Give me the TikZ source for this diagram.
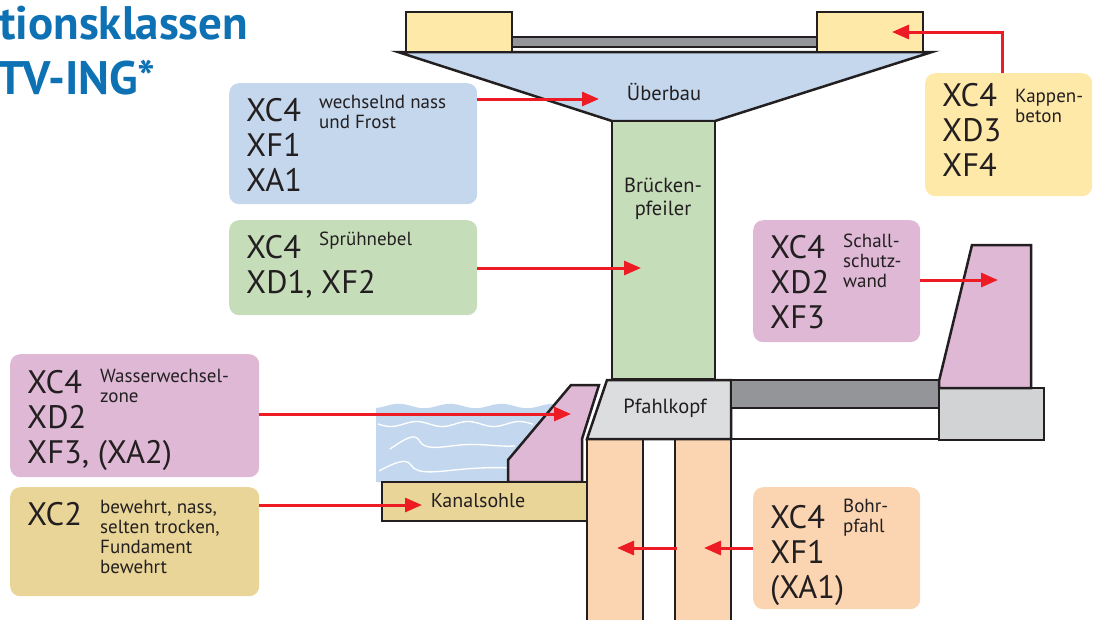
\documentclass[tikz,border=0pt]{standalone}
\usepackage{fontspec}
\setmainfont{PT Sans}
\usetikzlibrary{arrows.meta}
\definecolor{ink}{HTML}{231F20}
\definecolor{bblue}{HTML}{C4D7EC}
\definecolor{bgreen}{HTML}{C6DDBA}
\definecolor{byellow}{HTML}{FEE9A8}
\definecolor{bpink}{HTML}{DEB8D5}
\definecolor{btan}{HTML}{E8D597}
\definecolor{borange}{HTML}{FBD5B1}
\definecolor{gdark}{HTML}{939598}
\definecolor{glight}{HTML}{D1D3D4}
\definecolor{gkopf}{HTML}{DCDDDE}
\definecolor{ared}{HTML}{ED1C24}
\definecolor{tblue}{HTML}{0E71B4}
\definecolor{water}{HTML}{C3D8EE}
\newcommand\mystack[1]{\vtop{\halign{##\hfil\cr#1\crcr}}}
\begin{document}
\begin{tikzpicture}[x=1pt,y=-1pt,
  infobox/.style={rounded corners=10pt, draw=none, anchor=north west, inner sep=0pt},
  big/.style={font=\fontsize{32.5}{35}\selectfont, text=ink, anchor=base west, inner sep=0pt},
  small/.style={font=\fontsize{19}{20}\selectfont, text=ink, anchor=base west, inner sep=0pt},
  lbl/.style={font=\fontsize{20.5}{23}\selectfont, text=ink, align=center, inner sep=0pt},
  ttl/.style={font=\fontsize{47}{49}\bfseries, text=tblue, anchor=base west, inner sep=0pt},
  part/.style={draw=ink, line width=2.5pt, line join=miter},
  redarrow/.style={draw=ared, line width=3pt, -{Triangle[length=17pt,width=14pt]}},
  wave/.style={draw=white, line width=1.3pt}]
\useasboundingbox (0,0) rectangle (1102,619);
\clip (0,0) rectangle (1102,619);

% title
\node[ttl] (t1) at (-1,39) {tionsklassen};
\node[ttl] (t2) at (-3,94) {TV-ING*};

% ---- bridge superstructure
\filldraw[part, fill=bblue] (398,52) -- (932,52) -- (715,121) -- (612,121) -- cycle;
\filldraw[part, fill=gdark, line width=2pt] (512,37) rectangle (817,47);
\filldraw[part, fill=byellow] (406,12) rectangle (512,52);
\filldraw[part, fill=byellow] (817,12) rectangle (923,52);
\filldraw[part, fill=bgreen] (612,121) rectangle (715,379);

% ---- water
\fill[water] (376,482) -- (376,408)
  -- plot[domain=376:575, samples=80] (\x, {406 + 2.2*sin(\x*7)}) -- (575,482) -- cycle;
\draw[wave] plot[domain=378:533, samples=60] (\x, {424 + 2.5*sin((\x-378)*7)});
\draw[wave] (390,449) .. controls (402,441) and (414,432) .. (419,440)
  .. controls (424,451) and (440,447) .. (460,445) .. controls (480,443) and (497,447) .. (515,446);
\draw[wave] (379,471) .. controls (392,464) and (406,457) .. (411,465)
  .. controls (417,476) and (440,471) .. (465,469) .. controls (490,467) and (510,467) .. (533,470);

% ---- wall at the water
\filldraw[part, fill=bpink] (571,385) -- (599,385) -- (582,439) -- (582,482) -- (508,482) -- (508,460) -- cycle;
% Kanalsohle
\filldraw[part, fill=btan] (382,482) rectangle (587,521);
% piles
\filldraw[part, fill=borange] (587,439) rectangle (643,630);
\filldraw[part, fill=borange] (675,439) rectangle (731,630);
% Pfahlkopf
\filldraw[part, fill=gkopf] (607,380) -- (731,380) -- (731,439) -- (587,439) -- cycle;
% road
\filldraw[part, fill=gdark] (731,380) rectangle (939,408);
\draw[part] (731,439) -- (939,439);
% right base + noise barrier
\filldraw[part, fill=glight] (939,388) rectangle (1044,440);
\filldraw[part, fill=bpink] (972,245) -- (1031,245) -- (1031,388) -- (939,388) -- (939,381) -- cycle;

% ---- labels in the drawing
\node[lbl] (ueb) at (664,92) {Überbau};
\node[lbl] (bpf) at (663,199) {Brücken-\\pfeiler};
\node[lbl] (pfk) at (665,408) {Pfahlkopf};
\node[lbl, font=\fontsize{20}{23}\selectfont] (kan) at (478,501) {Kanalsohle};

% ---- info boxes
\node[infobox, fill=bblue, minimum width=248pt, minimum height=121pt] (bxblue) at (229,83) {};
\node[big] at (246,121) {\mystack{XC4\cr XF1\cr XA1}};
\node[small] at (319,108) {\mystack{wechselnd nass\cr und Frost}};

\node[infobox, fill=bgreen, minimum width=248pt, minimum height=95pt] (bxgreen) at (229,220) {};
\node[big] at (246,258) {\mystack{XC4\cr XD1, XF2}};
\node[small] at (319,245) {Sprühnebel};

\node[infobox, fill=byellow, minimum width=167pt, minimum height=123pt] (bxyellow) at (925,73) {};
\node[big] at (942,106) {\mystack{XC4\cr XD3\cr XF4}};
\node[small] at (1015,102) {\mystack{Kappen-\cr beton}};

\node[infobox, fill=bpink, minimum width=167pt, minimum height=122pt] (bxschall) at (753,220) {};
\node[big] at (770,258) {\mystack{XC4\cr XD2\cr XF3}};
\node[small] at (843,247) {\mystack{Schall-\cr schutz-\cr wand}};

\node[infobox, fill=bpink, minimum width=249pt, minimum height=123pt] (bxwasser) at (10,354) {};
\node[big] at (27,393) {\mystack{XC4\cr XD2\cr XF3, (XA2)}};
\node[small] at (100,382) {\mystack{Wasserwechsel-\cr zone}};

\node[infobox, fill=btan, minimum width=249pt, minimum height=109pt] (bxtan) at (10,487) {};
\node[big] at (27,525) {XC2};
\node[small] at (100,513) {\mystack{bewehrt, nass,\cr selten trocken,\cr Fundament\cr bewehrt}};

\node[infobox, fill=borange, minimum width=167pt, minimum height=122pt] (bxorange) at (753,487) {};
\node[big] at (770,528) {\mystack{XC4\cr XF1\cr (XA1)}};
\node[small] at (843,512) {\mystack{Bohr-\cr pfahl}};

% ---- arrows
\coordinate (pUeb) at (599,99);
\coordinate (pPf) at (641,268);
\coordinate (pKapTurn) at (1002,32);
\coordinate (pKap) at (892,32);
\coordinate (pSch) at (998,280);
\coordinate (pWas) at (571,414);
\coordinate (pKan) at (422,505);
\coordinate (pBohrA) at (704,548);
\coordinate (pBohrB) at (677,548);
\coordinate (pBohrC) at (617,548);

\draw[redarrow] (bxblue.east |- pUeb) -- (pUeb);
\draw[redarrow] (bxgreen.east |- pPf) -- (pPf);
\draw[redarrow] (bxyellow.north -| pKapTurn) -- (pKapTurn) -- (pKap);
\draw[redarrow] (bxschall.east |- pSch) -- (pSch);
\draw[redarrow] (bxwasser.east |- pWas) -- (pWas);
\draw[redarrow] (bxtan.east |- pKan) -- (pKan);
\draw[redarrow] (bxorange.west |- pBohrA) -- (pBohrA);
\draw[redarrow] (pBohrB) -- (pBohrC);
\end{tikzpicture}
\end{document}
